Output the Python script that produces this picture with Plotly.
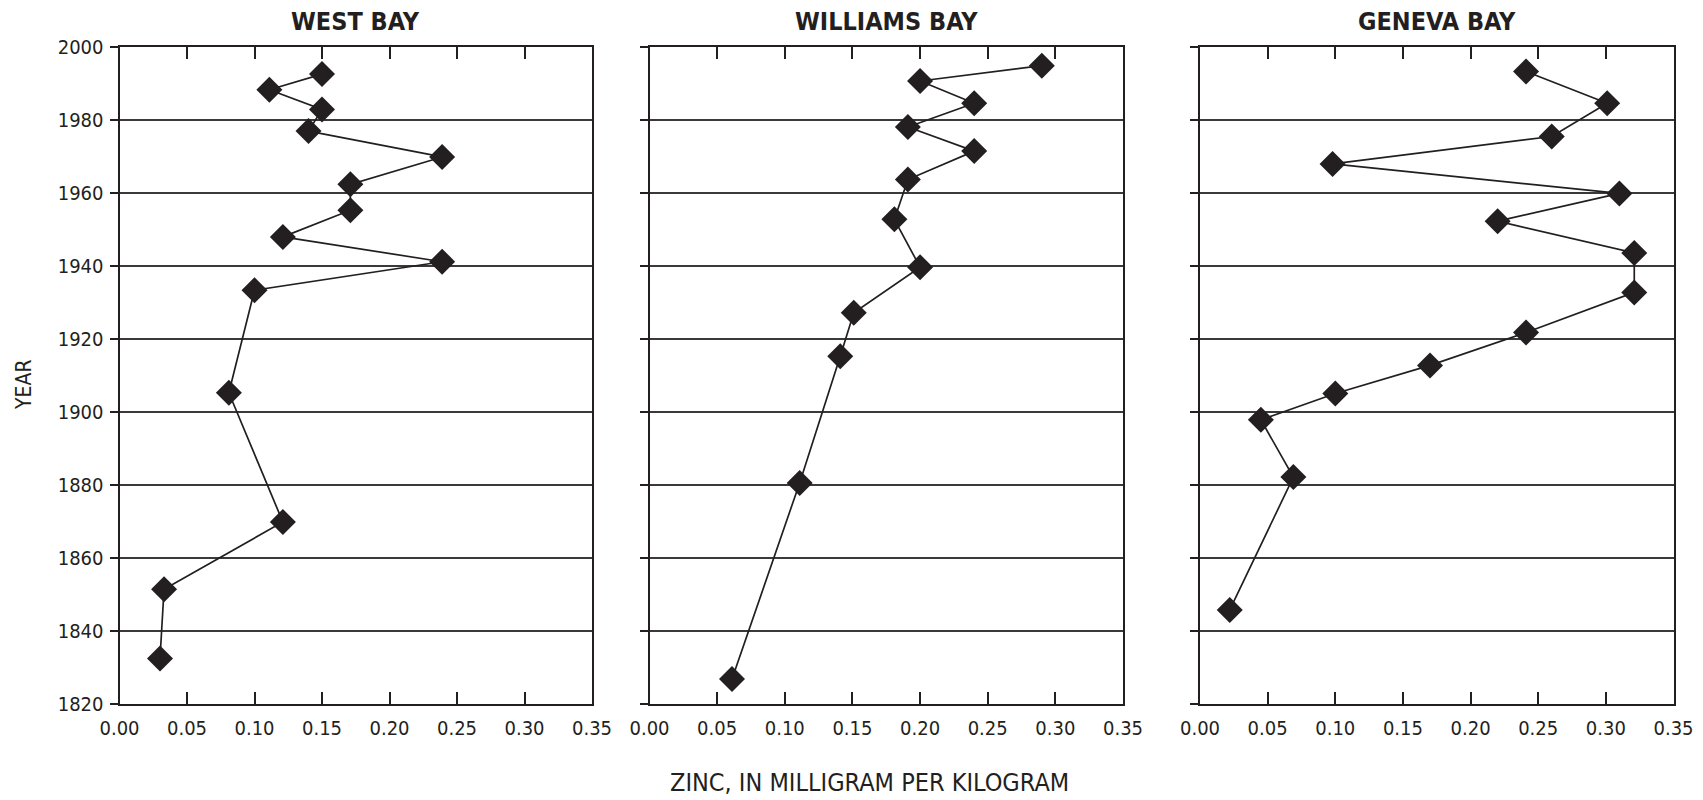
import plotly.graph_objects as go

# ---- data ----
west_zinc = [0.150, 0.111, 0.150, 0.140, 0.239, 0.171, 0.171, 0.121, 0.239, 0.100, 0.081, 0.121, 0.033, 0.030]
west_year = [1992.5, 1988.2, 1982.8, 1976.9, 1969.8, 1962.3, 1955.2, 1947.9, 1941.1, 1933.3, 1905.2, 1869.8, 1851.4, 1832.4]

williams_zinc = [0.290, 0.200, 0.240, 0.191, 0.240, 0.191, 0.181, 0.200, 0.151, 0.141, 0.111, 0.061]
williams_year = [1994.8, 1990.6, 1984.5, 1978.0, 1971.4, 1963.6, 1952.7, 1939.6, 1927.1, 1915.2, 1880.5, 1826.8]

geneva_zinc = [0.241, 0.301, 0.260, 0.098, 0.310, 0.220, 0.321, 0.321, 0.241, 0.170, 0.100, 0.045, 0.069, 0.022]
geneva_year = [1993.2, 1984.5, 1975.4, 1967.9, 1959.8, 1952.2, 1943.5, 1932.7, 1921.7, 1912.7, 1905.0, 1897.8, 1882.1, 1845.7]

titles = ["WEST BAY", "WILLIAMS BAY", "GENEVA BAY"]
x_ticks = [0.00, 0.05, 0.10, 0.15, 0.20, 0.25, 0.30, 0.35]
y_ticks = [1820, 1840, 1860, 1880, 1900, 1920, 1940, 1960, 1980, 2000]
x_title = "ZINC, IN MILLIGRAM PER KILOGRAM"
y_title = "YEAR"

series = [(west_zinc, west_year), (williams_zinc, williams_year), (geneva_zinc, geneva_year)]

W, H = 1703, 800
FONT = "Liberation Sans Narrow, Arial Narrow, DejaVu Sans Condensed, sans-serif"
INK = "#231f20"

# panel pixel boxes (left, right) and vertical (top, bottom), in page pixels
panels_px = [(119.5, 592), (649.5, 1123), (1200, 1673.5)]
top_px, bot_px = 46.7, 703.8


def px(v):
    return v / W


def py(v):
    return 1 - v / H


fig = go.Figure()
for i, ((xs, ys), (l, r)) in enumerate(zip(series, panels_px)):
    n = "" if i == 0 else str(i + 1)
    fig.add_trace(go.Scatter(
        x=xs, y=ys, mode="lines+markers",
        line=dict(color=INK, width=1.7),
        marker=dict(symbol="diamond", size=20, color=INK, line=dict(width=0)),
        xaxis="x" + n, yaxis="y" + n, showlegend=False, hoverinfo="x+y"))
    xa = dict(
        domain=[px(l), px(r)], range=[0, 0.35], anchor="y" + n, automargin=False,
        tickvals=x_ticks, tickformat=".2f", ticklabelstandoff=5,
        ticks="inside", ticklen=12, tickwidth=1.5, tickcolor=INK,
        showline=True, linewidth=2, linecolor=INK, mirror="allticks",
        showgrid=False, zeroline=False,
        tickfont=dict(family=FONT, size=20, color=INK),
    )
    ya = dict(
        domain=[py(bot_px), py(top_px)], range=[1820, 2000], anchor="x" + n,
        automargin=False, ticklabelstandoff=2,
        tickvals=y_ticks, showticklabels=(i == 0),
        ticks="outside", ticklen=8, tickwidth=1.5, tickcolor=INK,
        showline=True, linewidth=2, linecolor=INK, mirror=True,
        showgrid=True, gridcolor="#3a3a3a", gridwidth=1.5, zeroline=False,
        tickfont=dict(family=FONT, size=20, color=INK),
    )
    fig.update_layout(**{"xaxis" + n: xa, "yaxis" + n: ya})
    fig.add_annotation(
        text="<b>" + titles[i] + "</b>", x=px((l + r) / 2), y=py(22),
        xref="paper", yref="paper", showarrow=False, xanchor="center", yanchor="middle",
        font=dict(family=FONT, size=25, color=INK))

fig.add_annotation(text=x_title, x=px(869), y=py(782), xref="paper", yref="paper",
                   showarrow=False, xanchor="center", yanchor="middle",
                   font=dict(family=FONT, size=25, color=INK))
fig.add_annotation(text=y_title, x=px(24), y=py(385), xref="paper", yref="paper",
                   showarrow=False, xanchor="center", yanchor="middle", textangle=-90,
                   font=dict(family=FONT, size=21, color=INK))

fig.update_layout(
    width=W, height=H, margin=dict(l=0, r=0, t=0, b=0),
    paper_bgcolor="white", plot_bgcolor="white",
    font=dict(family=FONT, color=INK),
)

fig.write_html("out.html", config={"displayModeBar": False},
               post_script="document.body.style.margin='0';")
